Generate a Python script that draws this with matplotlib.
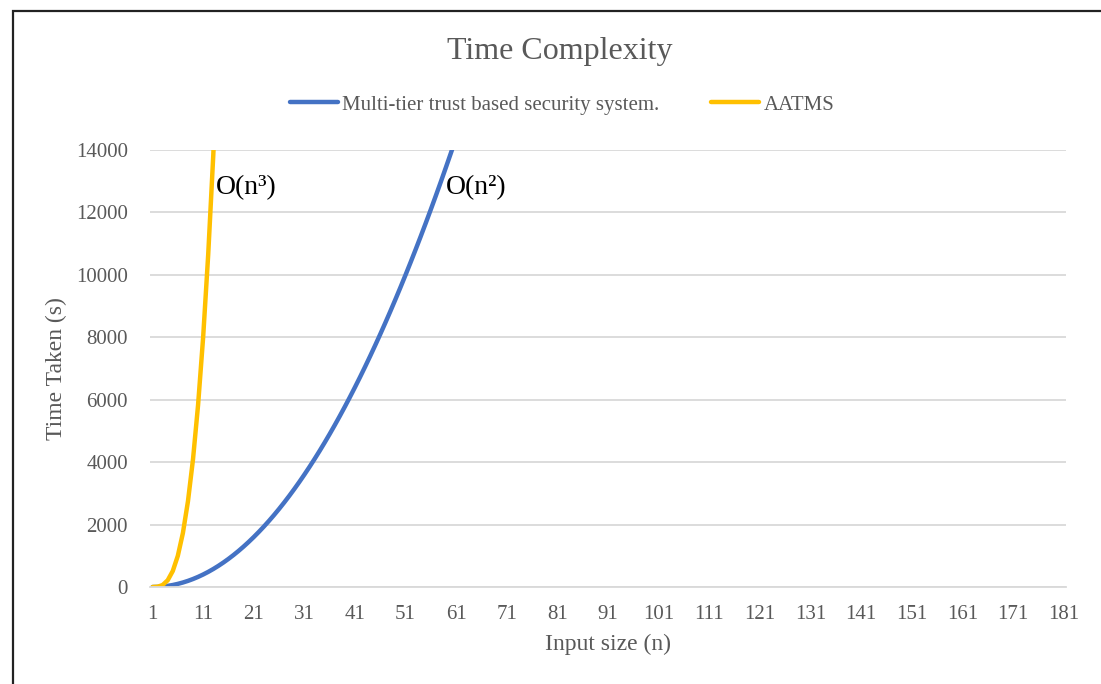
import matplotlib.pyplot as plt
from matplotlib.patches import Rectangle

# Input sizes shown on the category axis
input_sizes = list(range(1, 182))
tick_labels = [str(n) for n in range(1, 182, 10)]

# Measured running times (s); later points run past the 14000 axis limit
multi_tier_times = [0, 4, 16, 36, 64, 100, 144, 196, 256, 324,
                    400, 484, 576, 676, 784, 900, 1024, 1156, 1296, 1444,
                    1600, 1764, 1936, 2116, 2304, 2500, 2704, 2916, 3136, 3364,
                    3600, 3844, 4096, 4356, 4624, 4900, 5184, 5476, 5776, 6084,
                    6400, 6724, 7056, 7396, 7744, 8100, 8464, 8836, 9216, 9604,
                    10000, 10404, 10816, 11236, 11664, 12100, 12544, 12996, 13456, 13924,
                    14400, 14884]
aatms_times = [0, 8, 64, 216, 512, 1000, 1728, 2744, 4096, 5832,
               8000, 10648, 13824, 17576]

grey = "#595959"
plt.rcParams["font.family"] = ["Liberation Serif", "DejaVu Serif"]

fig = plt.figure(figsize=(11.01, 6.84), dpi=100)
ax = fig.add_axes([150 / 1101, 1 - 587 / 684, 916 / 1101, 437 / 684])

ax.plot(input_sizes[:len(multi_tier_times)], multi_tier_times, color="#4472C4",
        lw=3.2, solid_capstyle="round", label="Multi-tier trust based security system.")
ax.plot(input_sizes[:len(aatms_times)], aatms_times, color="#FFC000",
        lw=3.2, solid_capstyle="round", label="AATMS")

ax.set_xlim(0.5, 181.5)
ax.set_ylim(0, 14000)
ax.set_xticks(range(1, 182, 10))
ax.set_xticklabels(tick_labels)
ax.set_yticks(range(0, 14001, 2000))
ax.tick_params(length=0, colors=grey, labelsize=15)
ax.tick_params(axis="x", pad=13)
ax.tick_params(axis="y", pad=16)

ax.grid(axis="y", color="#d9d9d9", lw=1.3)
ax.set_axisbelow(True)
for side in ["top", "right", "left"]:
    ax.spines[side].set_visible(False)
ax.spines["bottom"].set_color("#d9d9d9")
ax.spines["bottom"].set_linewidth(1.3)

ax.set_xlabel("Input size (n)", color=grey, fontsize=17, labelpad=7)
ax.set_ylabel("Time Taken (s)", color=grey, fontsize=17, labelpad=6)

ax.text(13.6, 12800, "O(n³)", fontsize=20, color="black", va="center", ha="left")
ax.text(59.0, 12800, "O(n²)", fontsize=20, color="black", va="center", ha="left")

fig.text(560 / 1101, 1 - 52 / 684, "Time Complexity", fontsize=23, color=grey,
         ha="center", va="center")
fig.legend(loc="center", bbox_to_anchor=(562 / 1101, 1 - 105 / 684), ncol=2,
           frameon=False, fontsize=15, labelcolor=grey, handlelength=2.3,
           handletextpad=0.2, columnspacing=2.5)

# Chart frame along the top and left edges
fig.add_artist(Rectangle((12.5 / 1101, -0.1), 1.2, 1 - 11.5 / 684 + 0.1,
                         transform=fig.transFigure, fill=False,
                         edgecolor="#222222", lw=1.6))

fig.savefig("out.png", dpi=100)
